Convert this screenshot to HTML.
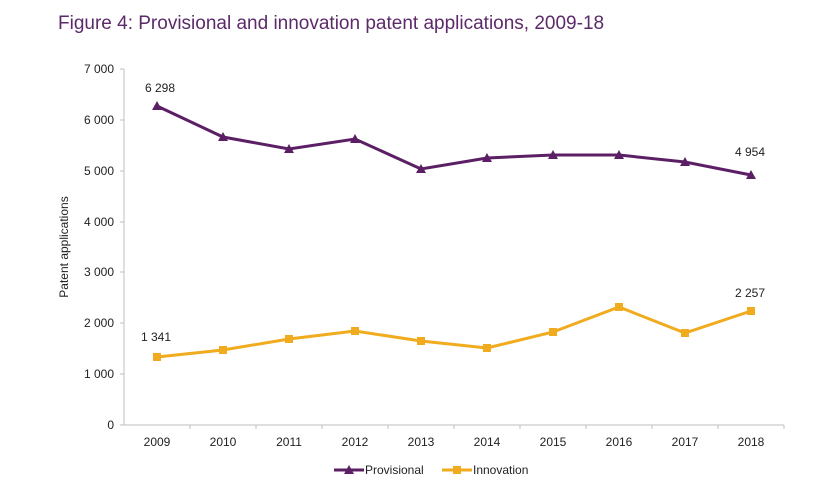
<!DOCTYPE html>
<html><head><meta charset="utf-8"><style>body{margin:0;background:#fff}svg text{font-family:"Liberation Sans",sans-serif}</style></head><body>
<svg width="837" height="488" viewBox="0 0 837 488">
<text x="58" y="29" font-size="19" fill="#5c2a6a">Figure 4: Provisional and innovation patent applications, 2009-18</text>
<g stroke="#bfbfbf" stroke-width="1" fill="none">
<line x1="124" y1="69" x2="124" y2="425"/>
<line x1="124" y1="425" x2="784" y2="425"/>
<line x1="120" y1="69" x2="124" y2="69"/><line x1="120" y1="120" x2="124" y2="120"/><line x1="120" y1="171" x2="124" y2="171"/><line x1="120" y1="222" x2="124" y2="222"/><line x1="120" y1="272" x2="124" y2="272"/><line x1="120" y1="323" x2="124" y2="323"/><line x1="120" y1="374" x2="124" y2="374"/><line x1="120" y1="425" x2="124" y2="425"/>
<line x1="190" y1="425" x2="190" y2="429"/><line x1="256" y1="425" x2="256" y2="429"/><line x1="322" y1="425" x2="322" y2="429"/><line x1="388" y1="425" x2="388" y2="429"/><line x1="454" y1="425" x2="454" y2="429"/><line x1="520" y1="425" x2="520" y2="429"/><line x1="586" y1="425" x2="586" y2="429"/><line x1="652" y1="425" x2="652" y2="429"/><line x1="718" y1="425" x2="718" y2="429"/><line x1="784" y1="425" x2="784" y2="429"/>
</g>
<g font-size="12" fill="#222" text-anchor="end">
<text x="114" y="73">7 000</text><text x="114" y="124">6 000</text><text x="114" y="175">5 000</text><text x="114" y="226">4 000</text><text x="114" y="276">3 000</text><text x="114" y="327">2 000</text><text x="114" y="378">1 000</text><text x="114" y="429">0</text>
</g>
<g font-size="12" fill="#222" text-anchor="middle">
<text x="157" y="446">2009</text><text x="223" y="446">2010</text><text x="289" y="446">2011</text><text x="355" y="446">2012</text><text x="421" y="446">2013</text><text x="487" y="446">2014</text><text x="553" y="446">2015</text><text x="619" y="446">2016</text><text x="685" y="446">2017</text><text x="751" y="446">2018</text>
<text x="160" y="92">6 298</text><text x="750" y="156">4 954</text><text x="156" y="341">1 341</text><text x="750" y="297">2 257</text>
</g>
<text transform="translate(68,247) rotate(-90)" font-size="12" fill="#222" text-anchor="middle">Patent applications</text>
<polyline fill="none" stroke="#5c1f66" stroke-width="3" points="157,106 223,137 289,149 355,139 421,169 487,158 553,155 619,155 685,162 751,175"/>
<g fill="#5c1f66">
<path d="M157,101l5,9h-10z"/><path d="M223,132l5,9h-10z"/><path d="M289,144l5,9h-10z"/><path d="M355,134l5,9h-10z"/><path d="M421,164l5,9h-10z"/><path d="M487,153l5,9h-10z"/><path d="M553,150l5,9h-10z"/><path d="M619,150l5,9h-10z"/><path d="M685,157l5,9h-10z"/><path d="M751,170l5,9h-10z"/>
</g>
<polyline fill="none" stroke="#f0ab1e" stroke-width="3" points="157,357 223,350 289,339 355,331 421,341 487,348 553,332 619,307 685,333 751,311"/>
<g fill="#f0ab1e">
<rect x="153" y="353" width="8" height="8"/><rect x="219" y="346" width="8" height="8"/><rect x="285" y="335" width="8" height="8"/><rect x="351" y="327" width="8" height="8"/><rect x="417" y="337" width="8" height="8"/><rect x="483" y="344" width="8" height="8"/><rect x="549" y="328" width="8" height="8"/><rect x="615" y="303" width="8" height="8"/><rect x="681" y="329" width="8" height="8"/><rect x="747" y="307" width="8" height="8"/>
</g>
<line x1="334" y1="470" x2="364" y2="470" stroke="#5c1f66" stroke-width="3"/><path d="M349,465l5,9h-10z" fill="#5c1f66"/>
<text x="365" y="474" font-size="12" fill="#222">Provisional</text>
<line x1="442" y1="470" x2="472" y2="470" stroke="#f0ab1e" stroke-width="3"/><rect x="453" y="466" width="8" height="8" fill="#f0ab1e"/>
<text x="473" y="474" font-size="12" fill="#222">Innovation</text>
</svg>
</body></html>
